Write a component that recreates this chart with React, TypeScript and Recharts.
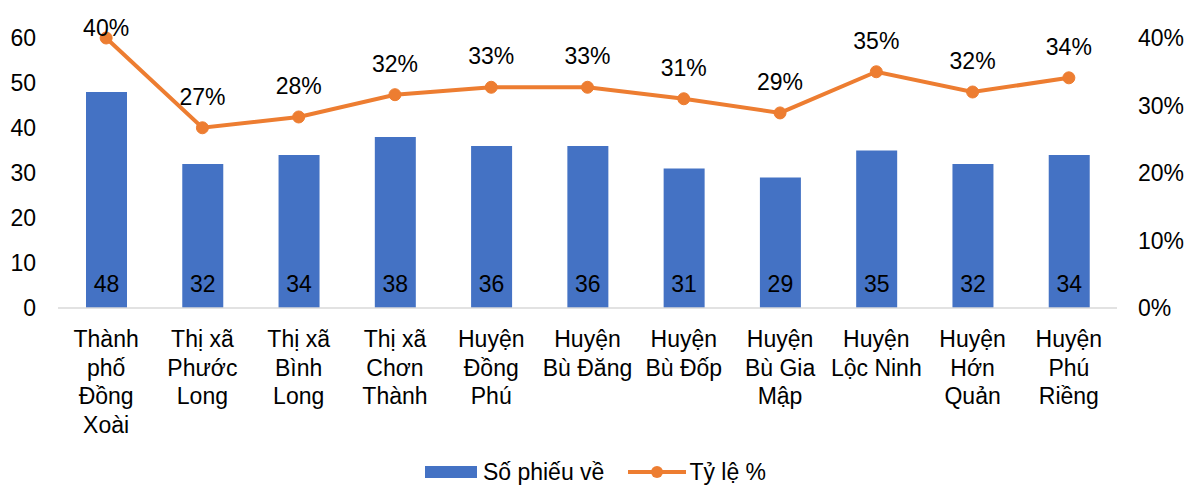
import React from 'react';
import { ComposedChart, Bar, Line, XAxis, YAxis, Legend, LabelList } from 'recharts';

// Districts (line breaks as in the original axis labels)
const districts = [
  'Thành\nphố\nĐồng\nXoài',
  'Thị xã\nPhước\nLong',
  'Thị xã\nBình\nLong',
  'Thị xã\nChơn\nThành',
  'Huyện\nĐồng\nPhú',
  'Huyện\nBù Đăng',
  'Huyện\nBù Đốp',
  'Huyện\nBù Gia\nMập',
  'Huyện\nLộc Ninh',
  'Huyện\nHớn\nQuản',
  'Huyện\nPhú\nRiềng',
];
const ballots = [48, 32, 34, 38, 36, 36, 31, 29, 35, 32, 34];
const ratePct = [40, 26.7, 28.3, 31.6, 32.7, 32.7, 31.0, 28.9, 35.0, 32.0, 34.1];

const leftTicks = [0, 10, 20, 30, 40, 50, 60];
const rightTicks = [0, 10, 20, 30, 40];

const BLUE = '#4472C4';
const ORANGE = '#ED7D31';
const FONT = '"Liberation Sans", Arial, sans-serif';
const FS = 23;

const data = districts.map((name, i) => ({ name, ballots: ballots[i], rate: ratePct[i] }));

const CategoryTick = (props: any) => {
  const { x, y, payload } = props;
  const lines = String(payload.value).split('\n');
  return (
    <text x={x} y={y} textAnchor="middle" fontSize={FS} fill="#000" fontFamily={FONT}>
      {lines.map((l: string, i: number) => (
        <tspan key={i} x={x} y={y + 31 + i * 28.5}>{l}</tspan>
      ))}
    </text>
  );
};

const BarValue = (props: any) => {
  const { x, y, width, height, value } = props;
  return (
    <text x={x + width / 2} y={y + height - 16} textAnchor="middle" fontSize={FS} fill="#000" fontFamily={FONT}>
      {value}
    </text>
  );
};

const RateValue = (props: any) => {
  const { x, y, value } = props;
  return (
    <text x={x} y={Math.max(y - 23, 36)} textAnchor="middle" fontSize={FS} fill="#000" fontFamily={FONT}>
      {Math.round(value)}%
    </text>
  );
};

const LegendBox = () => (
  <div style={{ display: 'flex', justifyContent: 'center', alignItems: 'center', height: 40, paddingTop: 14, boxSizing: 'border-box', fontFamily: FONT, fontSize: FS, color: '#000', paddingLeft: 4 }}>
    <svg width={52} height={12} style={{ marginRight: 6 }}>
      <rect x={0} y={0} width={52} height={12} fill={BLUE} />
    </svg>
    <span style={{ marginRight: 24 }}>Số phiếu về</span>
    <svg width={58} height={14} style={{ marginRight: 3 }}>
      <line x1={0} y1={7} x2={58} y2={7} stroke={ORANGE} strokeWidth={4} />
      <circle cx={29} cy={7} r={6} fill={ORANGE} />
    </svg>
    <span>Tỷ lệ %</span>
  </div>
);

export default function App() {
  return (
    <div style={{ position: 'absolute', left: 0, top: 0, background: '#fff' }}>
      <ComposedChart width={1187} height={485} data={data} margin={{ top: 38, right: 0, left: 0, bottom: 0 }} barCategoryGap={0}>
        <XAxis
          dataKey="name"
          interval={0}
          height={137}
          tick={<CategoryTick />}
          tickLine={false}
          axisLine={{ stroke: '#D9D9D9', strokeWidth: 1.5 }}
        />
        <YAxis
          yAxisId="left"
          domain={[0, 60]}
          ticks={leftTicks}
          width={58}
          axisLine={false}
          tickLine={false}
          tickSize={0}
          tickMargin={22}
          tick={{ fontSize: FS, fill: '#000', fontFamily: FONT }}
        />
        <YAxis
          yAxisId="right"
          orientation="right"
          domain={[0, 40]}
          ticks={rightTicks}
          width={70}
          axisLine={false}
          tickLine={false}
          tickSize={0}
          tickMargin={21}
          tickFormatter={(v: number) => `${v}%`}
          tick={{ fontSize: FS, fill: '#000', fontFamily: FONT, textAnchor: 'start' }}
        />
        <Legend verticalAlign="bottom" height={40} content={<LegendBox />} />
        <Bar yAxisId="left" dataKey="ballots" fill={BLUE} barSize={41} isAnimationActive={false}>
          <LabelList dataKey="ballots" content={<BarValue />} />
        </Bar>
        <Line
          yAxisId="right"
          dataKey="rate"
          stroke={ORANGE}
          strokeWidth={4}
          dot={{ r: 6, fill: ORANGE, stroke: ORANGE, strokeWidth: 1 }}
          activeDot={false}
          isAnimationActive={false}
        >
          <LabelList dataKey="rate" content={<RateValue />} />
        </Line>
      </ComposedChart>
    </div>
  );
}
